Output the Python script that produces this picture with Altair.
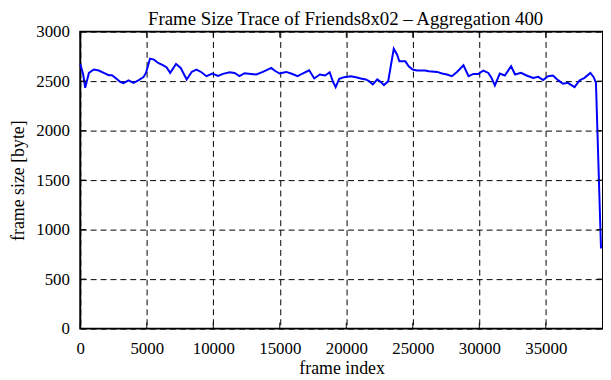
import altair as alt
import pandas as pd

frames = [0, 220, 370, 650, 1020, 1390, 1765, 2140, 2385, 2700, 3000, 3250, 3630, 4000,
          4370, 4750, 4940, 5240, 5540, 5860, 6240, 6480, 6760, 7200, 7550, 8000, 8370,
          8740, 9110, 9490, 9930, 10360, 10730, 11230, 11600, 11970, 12350, 12840, 13240,
          13730, 14360, 14600, 14980, 15480, 15850, 16340, 16710, 17210, 17590, 18010,
          18410, 18750, 19000, 19200, 19470, 19840, 20340, 20720, 21090, 21460, 21710,
          22000, 22330, 22580, 22830, 23150, 23320, 23570, 23820, 23990, 24440, 24690,
          24990, 25310, 25930, 26200, 26830, 27200, 27570, 27940, 28320, 28810, 29190,
          29560, 29930, 30300, 30680, 30920, 31170, 31540, 31920, 32390, 32690, 33140,
          33550, 34050, 34430, 34800, 35170, 35540, 35920, 36290, 36660, 37160, 37530,
          37910, 38350, 38600, 38770, 39150]
sizes = [2673, 2567, 2433, 2583, 2617, 2607, 2583, 2560, 2560, 2527, 2493, 2480, 2507, 2483,
         2507, 2540, 2583, 2727, 2717, 2683, 2660, 2640, 2583, 2673, 2633, 2517, 2593,
         2617, 2590, 2550, 2577, 2553, 2573, 2590, 2583, 2550, 2580, 2573, 2567,
         2593, 2633, 2607, 2577, 2593, 2577, 2550, 2577, 2610, 2527, 2567,
         2557, 2590, 2493, 2440, 2523, 2540, 2550, 2540, 2527, 2517, 2500,
         2467, 2517, 2493, 2460, 2500, 2633, 2827, 2767, 2700, 2700, 2650,
         2617, 2607, 2607, 2600, 2593, 2577, 2567, 2550, 2593, 2660, 2550,
         2573, 2573, 2607, 2583, 2533, 2457, 2577, 2557, 2650, 2567, 2583,
         2557, 2533, 2543, 2510, 2550, 2557, 2510, 2473, 2483, 2440, 2507,
         2533, 2583, 2540, 2483, 810]

x_ticks = [0, 5000, 10000, 15000, 20000, 25000, 30000, 35000]
y_ticks = [0, 500, 1000, 1500, 2000, 2500, 3000]

title_text = "Frame Size Trace of Friends8x02 \u2013 Aggregation 400"
x_title = "frame index"
y_title = "frame size [byte]"

W, H = 528, 300
FONT = "Liberation Serif"

df = pd.DataFrame({"frame": frames, "size": sizes})
xdf = pd.DataFrame({"frame": x_ticks})
ydf = pd.DataFrame({"size": y_ticks})

xscale = alt.Scale(domain=[0, 39300], nice=False, zero=False)
yscale = alt.Scale(domain=[0, 3000], nice=False)

xaxis = alt.Axis(values=x_ticks, format="d", title=x_title, labelFlush=False,
                 labelOverlap=False, labelPadding=12, titlePadding=3)
yaxis = alt.Axis(values=y_ticks, format="d", title=y_title, labelPadding=11,
                 titlePadding=8)

line = alt.Chart(df).mark_line(color="#0000ff", strokeWidth=2).encode(
    x=alt.X("frame:Q", scale=xscale, axis=xaxis),
    y=alt.Y("size:Q", scale=yscale, axis=yaxis),
)

xt_bottom = alt.Chart(xdf).mark_rule(color="black", strokeWidth=1).encode(
    x=alt.X("frame:Q", scale=xscale, axis=xaxis),
    y=alt.value(H), y2=alt.value(H - 6),
)
xt_top = alt.Chart(xdf).mark_rule(color="black", strokeWidth=1).encode(
    x=alt.X("frame:Q", scale=xscale, axis=xaxis),
    y=alt.value(0), y2=alt.value(6),
)
yt_left = alt.Chart(ydf).mark_rule(color="black", strokeWidth=1).encode(
    y=alt.Y("size:Q", scale=yscale, axis=yaxis),
    x=alt.value(0), x2=alt.value(6),
)
yt_right = alt.Chart(ydf).mark_rule(color="black", strokeWidth=1).encode(
    y=alt.Y("size:Q", scale=yscale, axis=yaxis),
    x=alt.value(W), x2=alt.value(W - 6),
)

chart = alt.layer(line, xt_bottom, xt_top, yt_left, yt_right).properties(
    width=W, height=H,
    background="white",
    title=alt.TitleParams(title_text, font=FONT, fontSize=19, fontWeight="normal",
                          color="black", offset=1, dy=7, dx=4,
                          anchor="middle", frame="group"),
    autosize=alt.AutoSizeParams(type="none"),
    padding={"left": 73, "top": 22, "right": 0, "bottom": 48},
).configure_view(
    stroke="black", strokeWidth=2
).configure_axis(
    domain=False, ticks=False, grid=True, gridColor="black", gridDash=[6, 4],
    gridWidth=1, gridOpacity=1,
    labelFont=FONT, labelFontSize=17, labelColor="black",
    titleFont=FONT, titleFontSize=18, titleFontWeight="normal", titleColor="black",
)

chart.save("out.html", embed_options={"renderer": "svg", "actions": False})
